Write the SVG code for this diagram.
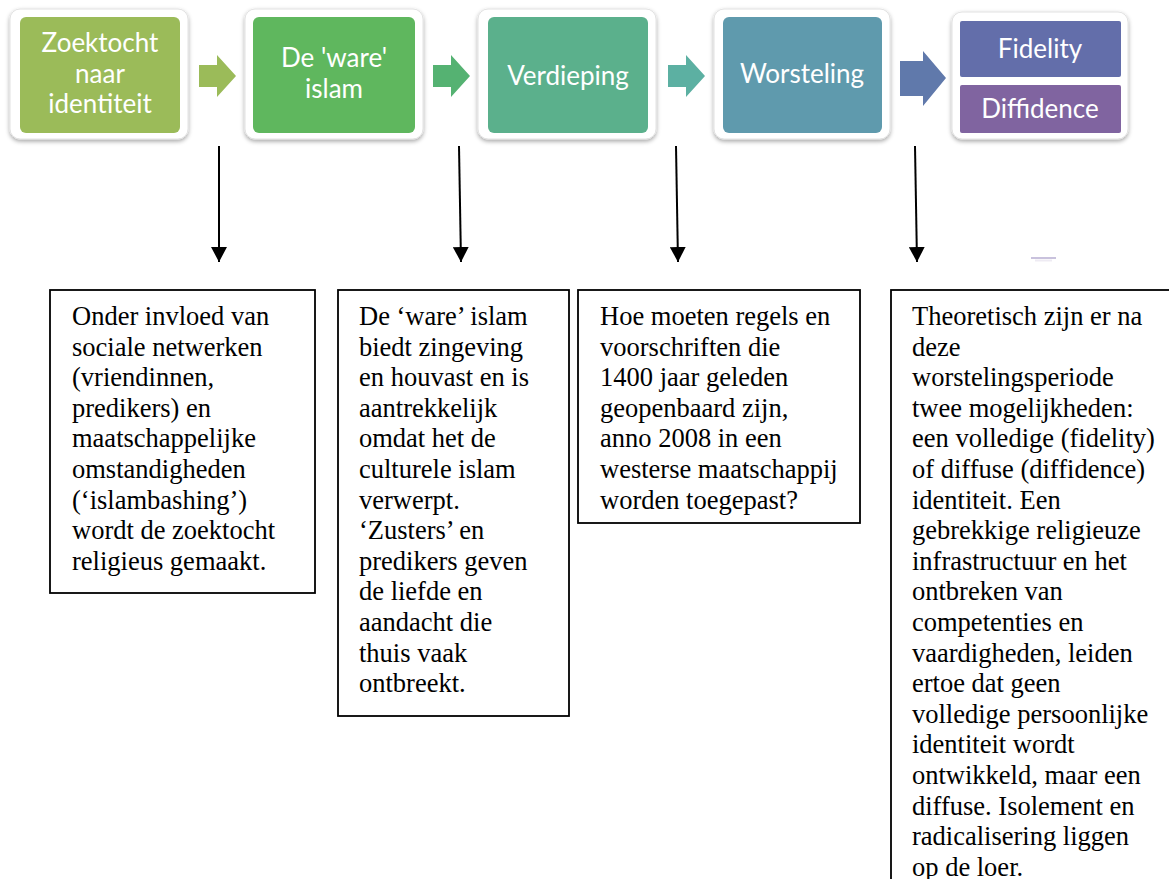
<svg xmlns="http://www.w3.org/2000/svg" width="1169" height="879" viewBox="0 0 1169 879">
<defs>
<filter id="sh" x="-10%" y="-10%" width="120%" height="125%">
<feDropShadow dx="0" dy="2" stdDeviation="2" flood-color="#000" flood-opacity="0.35"/>
</filter>
<marker id="ah" markerUnits="userSpaceOnUse" markerWidth="16" markerHeight="16" refX="15" refY="8" orient="auto">
<path d="M0,0 L15,8 L0,16 z" fill="#000"/>
</marker>
<style>
.frame{fill:#fff;stroke:#e2e2e2;stroke-width:1;filter:url(#sh)}
.nt{font-family:Lato,"Open Sans",sans-serif;font-size:26px;fill:#fff;text-anchor:middle;dominant-baseline:central}
.box{fill:#fff;stroke:#000;stroke-width:1.8}
.bt{font-family:"Liberation Serif","Times New Roman",serif;font-size:26.5px;fill:#000}
.con{stroke:#000;stroke-width:2;fill:none;marker-end:url(#ah)}
</style>
</defs>
<rect width="1169" height="879" fill="#fff"/>

<g id="node-zoektocht">
<rect class="frame" x="10" y="9" width="178" height="130" rx="10"/>
<rect x="20" y="17" width="160" height="116" rx="6" fill="#9bbb59"/>
<text class="nt" x="100" y="42">Zoektocht</text>
<text class="nt" x="100" y="73">naar</text>
<text class="nt" x="100" y="103">identiteit</text>
</g>
<g id="arrow-1"><path d="M199,65 H217 V55 L236,76 L217,97 V87 H199 z" fill="#9bbb59"/></g>

<g id="node-ware-islam">
<rect class="frame" x="245" y="9" width="178" height="130" rx="10"/>
<rect x="253" y="17" width="162" height="116" rx="6" fill="#5fb75e"/>
<text class="nt" x="334" y="57">De 'ware'</text>
<text class="nt" x="334" y="88">islam</text>
</g>
<g id="arrow-2"><path d="M433,65 H451 V55 L470,76 L451,97 V87 H433 z" fill="#55b272"/></g>

<g id="node-verdieping">
<rect class="frame" x="478" y="9" width="178" height="130" rx="10"/>
<rect x="488" y="17" width="160" height="116" rx="6" fill="#5bb08c"/>
<text class="nt" x="568" y="75">Verdieping</text>
</g>
<g id="arrow-3"><path d="M668,65 H686 V55 L705,76 L686,97 V87 H668 z" fill="#5cb0a2"/></g>

<g id="node-worsteling">
<rect class="frame" x="714" y="9" width="176" height="130" rx="10"/>
<rect x="723" y="17" width="159" height="116" rx="6" fill="#5f9aad"/>
<text class="nt" x="802" y="73">Worsteling</text>
</g>
<g id="arrow-4"><path d="M900,61 H923 V51 L946,78 L923,106 V96 H900 z" fill="#6079ab"/></g>

<g id="node-uitkomst">
<rect class="frame" x="952" y="12" width="176" height="127" rx="10"/>
<rect x="960" y="21" width="161" height="56" rx="2" fill="#636eaa"/>
<rect x="960" y="85" width="161" height="48" rx="2" fill="#8064a0"/>
<text class="nt" x="1040" y="48">Fidelity</text>
<text class="nt" x="1040" y="108">Diffidence</text>
</g>

<g id="connectors">
<path class="con" d="M219,146 L219,262"/>
<path class="con" d="M459,146 L461,262"/>
<path class="con" d="M676,146 L678,262"/>
<path class="con" d="M915,146 L917,262"/>
<line x1="1031" y1="258" x2="1056" y2="258" stroke="#c9c2dd" stroke-width="2"/>
<line x1="1035" y1="260.5" x2="1052" y2="260.5" stroke="#eeebf3" stroke-width="2"/>
</g>

<g id="box-1">
<rect class="box" x="50" y="290" width="265" height="303"/>
<text class="bt">
<tspan x="72" y="325">Onder invloed van</tspan>
<tspan x="72" y="355.6">sociale netwerken</tspan>
<tspan x="72" y="386.2">(vriendinnen,</tspan>
<tspan x="72" y="416.8">predikers) en</tspan>
<tspan x="72" y="447.4">maatschappelijke</tspan>
<tspan x="72" y="478">omstandigheden</tspan>
<tspan x="72" y="508.6">(‘islambashing’)</tspan>
<tspan x="72" y="539.2">wordt de zoektocht</tspan>
<tspan x="72" y="569.8">religieus gemaakt.</tspan>
</text>
</g>

<g id="box-2">
<rect class="box" x="338" y="290" width="231" height="426"/>
<text class="bt">
<tspan x="359" y="325">De ‘ware’ islam</tspan>
<tspan x="359" y="355.6">biedt zingeving</tspan>
<tspan x="359" y="386.2">en houvast en is</tspan>
<tspan x="359" y="416.8">aantrekkelijk</tspan>
<tspan x="359" y="447.4">omdat het de</tspan>
<tspan x="359" y="478">culturele islam</tspan>
<tspan x="359" y="508.6">verwerpt.</tspan>
<tspan x="359" y="539.2">‘Zusters’ en</tspan>
<tspan x="359" y="569.8">predikers geven</tspan>
<tspan x="359" y="600.4">de liefde en</tspan>
<tspan x="359" y="631">aandacht die</tspan>
<tspan x="359" y="661.6">thuis vaak</tspan>
<tspan x="359" y="692.2">ontbreekt.</tspan>
</text>
</g>

<g id="box-3">
<rect class="box" x="578" y="290" width="282" height="233"/>
<text class="bt">
<tspan x="600" y="325">Hoe moeten regels en</tspan>
<tspan x="600" y="355.6">voorschriften die</tspan>
<tspan x="600" y="386.2">1400 jaar geleden</tspan>
<tspan x="600" y="416.8">geopenbaard zijn,</tspan>
<tspan x="600" y="447.4">anno 2008 in een</tspan>
<tspan x="600" y="478">westerse maatschappij</tspan>
<tspan x="600" y="508.6">worden toegepast?</tspan>
</text>
</g>

<g id="box-4">
<rect class="box" x="891" y="290" width="300" height="620"/>
<text class="bt">
<tspan x="912" y="325">Theoretisch zijn er na</tspan>
<tspan x="912" y="355.6">deze</tspan>
<tspan x="912" y="386.2">worstelingsperiode</tspan>
<tspan x="912" y="416.8">twee mogelijkheden:</tspan>
<tspan x="912" y="447.4">een volledige (fidelity)</tspan>
<tspan x="912" y="478">of diffuse (diffidence)</tspan>
<tspan x="912" y="508.6">identiteit. Een</tspan>
<tspan x="912" y="539.2">gebrekkige religieuze</tspan>
<tspan x="912" y="569.8">infrastructuur en het</tspan>
<tspan x="912" y="600.4">ontbreken van</tspan>
<tspan x="912" y="631">competenties en</tspan>
<tspan x="912" y="661.6">vaardigheden, leiden</tspan>
<tspan x="912" y="692.2">ertoe dat geen</tspan>
<tspan x="912" y="722.8">volledige persoonlijke</tspan>
<tspan x="912" y="753.4">identiteit wordt</tspan>
<tspan x="912" y="784">ontwikkeld, maar een</tspan>
<tspan x="912" y="814.6">diffuse. Isolement en</tspan>
<tspan x="912" y="845.2">radicalisering liggen</tspan>
<tspan x="912" y="875.8">op de loer.</tspan>
</text>
</g>
</svg>
